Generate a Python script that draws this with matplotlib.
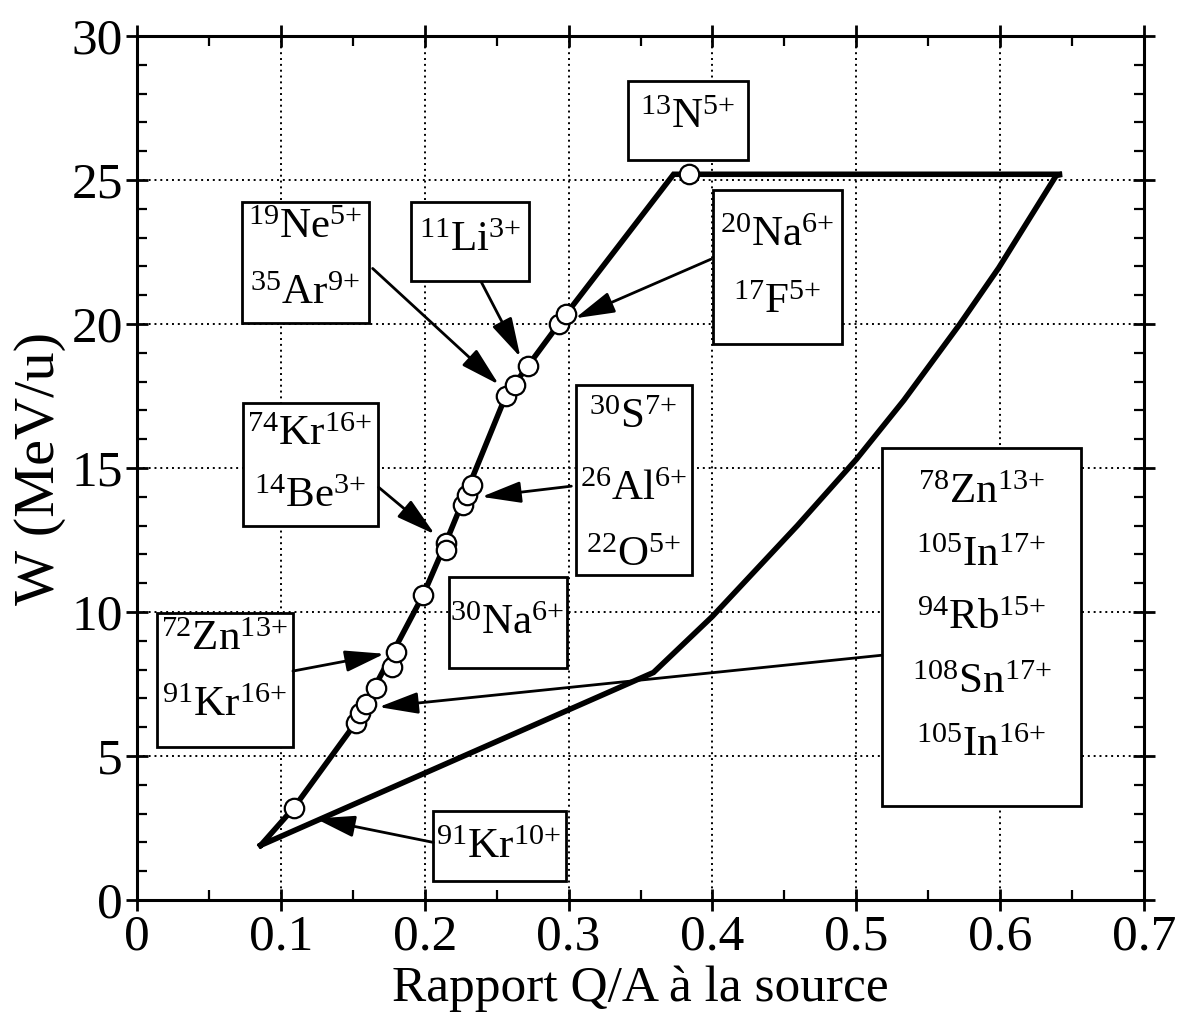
import numpy as np
import matplotlib
matplotlib.use("Agg")
import matplotlib.pyplot as plt
from matplotlib.patches import Rectangle

plt.rcParams['font.family'] = ['Liberation Serif', 'DejaVu Serif']
plt.rcParams['mathtext.fontset'] = 'custom'
plt.rcParams['mathtext.rm'] = 'Liberation Serif'
plt.rcParams['mathtext.it'] = 'Liberation Serif:italic'

# accepted ions (points on the left edge)
ion_qa = [0.109, 0.152, 0.155, 0.159, 0.166, 0.177, 0.180, 0.199,
          0.2146, 0.2150, 0.2266, 0.2296, 0.2331, 0.2563, 0.2625, 0.2718,
          0.2933, 0.2984, 0.3836]
ion_w = [3.2, 6.15, 6.5, 6.8, 7.35, 8.1, 8.6, 10.6,
         12.4, 12.15, 13.7, 14.05, 14.4, 17.5, 17.9, 18.55,
         20.0, 20.35, 25.2]

# acceptance envelope
env_qa = [0.086, 0.109, 0.152, 0.199, 0.2146, 0.2563, 0.2718, 0.2984, 0.373,
          0.643, 0.639, 0.599, 0.572, 0.533, 0.500, 0.459, 0.400, 0.359, 0.086]
env_w = [1.9, 3.2, 6.15, 10.6, 12.4, 17.5, 18.55, 20.35, 25.2,
         25.2, 25.16, 21.95, 20.0, 17.35, 15.3, 13.0, 9.85, 7.9, 1.9]

xticks = [0, 0.1, 0.2, 0.3, 0.4, 0.5, 0.6, 0.7]
xticklabels = ["0", "0.1", "0.2", "0.3", "0.4", "0.5", "0.6", "0.7"]
yticks = [0, 5, 10, 15, 20, 25, 30]

fig = plt.figure(figsize=(11.81, 10.21), dpi=100)
ax = fig.add_axes([0.116, 0.1185, 0.8527, 0.8462])

ax.plot(env_qa, env_w, color='black', lw=4, solid_joinstyle='miter', zorder=4)
ax.plot(ion_qa, ion_w, 'o', ms=14, mfc='white', mec='black', mew=1.6, zorder=5)

def ion(a, el, q):
    return r'$^{\text{%s}}\mathrm{%s}^{\text{%s+}}$' % (a, el, q)

def box(x0, x1, y0, y1, lines):
    ax.add_patch(Rectangle((x0, y0), x1 - x0, y1 - y0, fc='white', ec='black',
                           lw=2, zorder=3))
    for (tx, ty, s) in lines:
        ax.text(tx, ty, s, ha='center', va='center', fontsize=31, zorder=6)

box(0.3414, 0.4245, 25.71, 28.43, [(0.383, 27.15, ion('13', 'N', '5'))])
box(0.1903, 0.2727, 21.49, 24.22, [(0.2315, 22.9, ion('11', 'Li', '3'))])
box(0.0731, 0.161, 20.03, 24.22, [(0.117, 23.35, ion('19', 'Ne', '5')),
                                   (0.117, 21.05, ion('35', 'Ar', '9'))])
box(0.4007, 0.490, 19.29, 24.64, [(0.445, 23.05, ion('20', 'Na', '6')),
                                   (0.445, 20.75, ion('17', 'F', '5'))])
box(0.0738, 0.1673, 12.97, 17.26, [(0.120, 16.15, ion('74', 'Kr', '16')),
                                    (0.120, 14.0, ion('14', 'Be', '3'))])
box(0.3053, 0.386, 11.30, 17.87, [(0.345, 16.75, ion('30', 'S', '7')),
                                   (0.345, 14.25, ion('26', 'Al', '6')),
                                   (0.345, 11.95, ion('22', 'O', '5'))])
box(0.217, 0.2988, 8.06, 11.2, [(0.257, 9.6, ion('30', 'Na', '6'))])
box(0.0139, 0.1084, 5.30, 9.95, [(0.061, 9.05, ion('72', 'Zn', '13')),
                                  (0.061, 6.75, ion('91', 'Kr', '16'))])
box(0.206, 0.298, 0.67, 3.09, [(0.251, 1.8, ion('91', 'Kr', '10'))])
box(0.5178, 0.656, 3.28, 15.71, [(0.587, 14.15, ion('78', 'Zn', '13')),
                                  (0.587, 11.95, ion('105', 'In', '17')),
                                  (0.587, 9.75, ion('94', 'Rb', '15')),
                                  (0.587, 7.55, ion('108', 'Sn', '17')),
                                  (0.587, 5.35, ion('105', 'In', '16'))])

arrows = [((0.1638, 21.93), (0.2515, 17.9)),
          ((0.2394, 21.45), (0.2665, 18.85)),
          ((0.3989, 22.25), (0.3045, 20.2)),
          ((0.168, 14.33), (0.207, 12.7)),
          ((0.3019, 14.37), (0.2395, 14.0)),
          ((0.1084, 7.95), (0.172, 8.55)),
          ((0.5178, 8.5), (0.168, 6.7)),
          ((0.206, 2.0), (0.124, 2.83))]
for start, tip in arrows:
    ax.annotate('', xy=tip, xytext=start, zorder=6,
                arrowprops=dict(arrowstyle='-|>,head_length=1.1,head_width=0.3',
                                mutation_scale=22, lw=2, color='black',
                                shrinkA=0, shrinkB=0))

ax.set_xlim(0, 0.7)
ax.set_ylim(0, 30)
ax.set_xticks(xticks)
ax.set_xticklabels(xticklabels)
ax.set_yticks(yticks)
ax.set_xticks(np.arange(0, 0.701, 0.05), minor=True)
ax.set_yticks(np.arange(0, 30.1, 1), minor=True)
ax.grid(True, which='major', color='black', linestyle=(0, (1, 2)), lw=1.4, zorder=1)
ax.set_axisbelow(True)
ax.tick_params(which='major', direction='inout', length=16, width=2,
               top=True, right=True, labelsize=37, pad=2)
ax.tick_params(which='minor', direction='in', length=7, width=1.6,
               top=True, right=True)
for s in ax.spines.values():
    s.set_linewidth(2.2)

ax.set_xlabel('Rapport Q/A à la source', fontsize=37, labelpad=4)
ax.set_ylabel('W (MeV/u)', fontsize=42, labelpad=4)

fig.savefig('out.png', dpi=100)
